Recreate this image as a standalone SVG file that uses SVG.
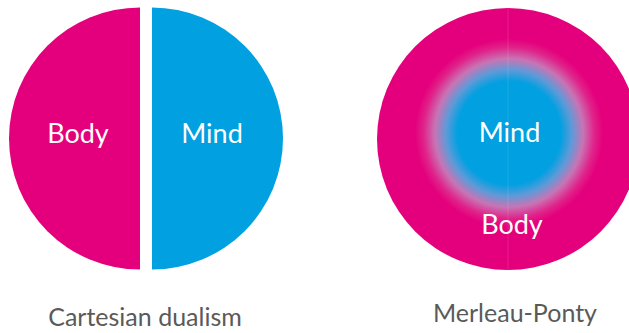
<svg xmlns="http://www.w3.org/2000/svg" width="629" height="333" viewBox="0 0 629 333">
<style>
.pink{fill:#E4007C}
.blue{fill:#00A0E1}
.in{font-family:Lato,"Open Sans","Liberation Sans",sans-serif;font-size:27px;fill:#ffffff;text-anchor:middle}
.cap{font-family:Lato,"Open Sans","Liberation Sans",sans-serif;font-size:25px;fill:#5a5a5a;text-anchor:middle}
</style>
<defs>
<radialGradient id="rg" gradientUnits="userSpaceOnUse" cx="509" cy="133" r="94">
<stop offset="0" stop-color="#00A0E1"/>
<stop offset="0.55" stop-color="#00A0E1"/>
<stop offset="0.67" stop-color="#5E9AD8"/>
<stop offset="0.79" stop-color="#C874B4"/>
<stop offset="0.91" stop-color="#E0238A"/>
<stop offset="1" stop-color="#E4007C"/>
</radialGradient>
</defs>
<g id="cartesian">
<g id="body-half">
<path class="pink" d="M140,7.5 A131,131 0 0 0 140,269.5 Z"/>
<text class="in" x="78" y="143">Body</text>
</g>
<g id="mind-half">
<path class="blue" d="M152,7.5 A131,131 0 0 1 152,269.5 Z"/>
<text class="in" x="212" y="143">Mind</text>
</g>
<text id="cartesian-label" class="cap" x="145" y="326">Cartesian dualism</text>
</g>
<g id="merleau-ponty">
<circle cx="508" cy="139" r="131" fill="url(#rg)"/>
<line x1="508" y1="8" x2="508" y2="270" stroke="#ffffff" stroke-opacity="0.12" stroke-width="1"/>
<g id="mind-core"><text class="in" x="509.5" y="142">Mind</text></g>
<g id="body-ring"><text class="in" x="512" y="234">Body</text></g>
<text id="mp-label" class="cap" x="515" y="322">Merleau-Ponty</text>
</g>
<g id="connectors"/>
</svg>
